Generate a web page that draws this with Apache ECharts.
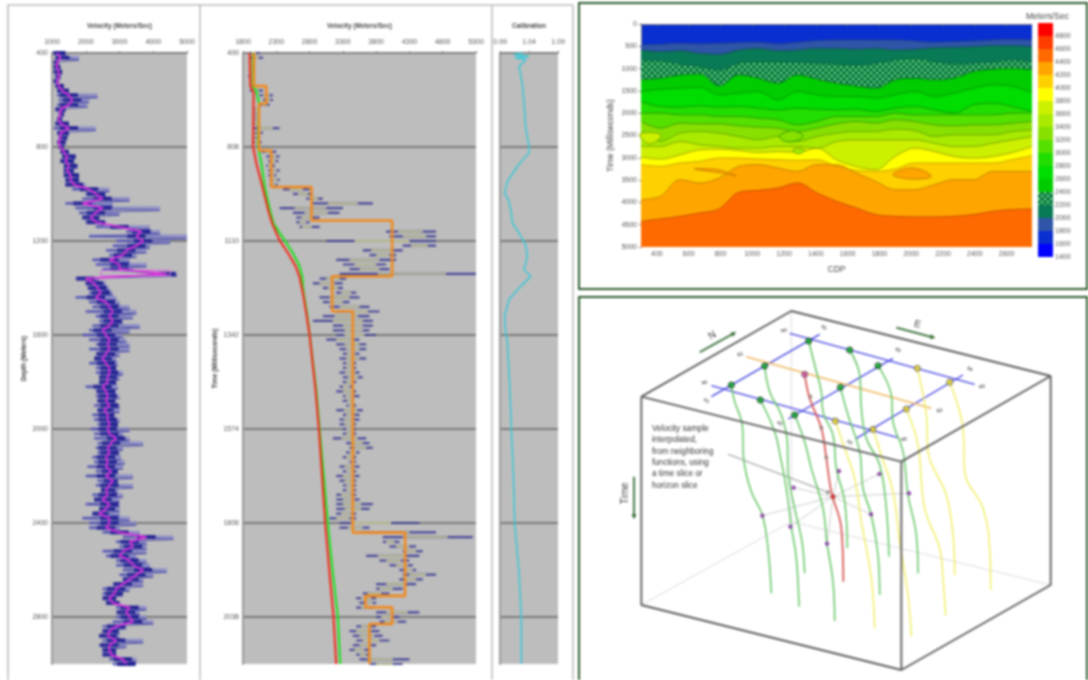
<!DOCTYPE html>
<html><head><meta charset="utf-8">
<style>html,body{margin:0;padding:0;background:#fff}#c{width:1088px;height:680px;filter:blur(0.9px)}</style>
<script src="https://cdn.jsdelivr.net/npm/echarts@6/dist/echarts.min.js"></script>
</head><body><div id="c"></div>
<script>
// ---------- Log panels: rows every 20 depth units from 400 to 3000 ----------
const rowStart = 400, rowStep = 20;
const depthTicks = [400,800,1200,1600,2000,2400,2800];
const depthLabels = ['400','800','1200','1600','2000','2400','2800'];
const timeLabels = ['400','808','1110','1342','1574','1806','2038'];
const leftVelTicks = [1000,2000,3000,4000,5000];
const midVelTicks = [1800,2300,2800,3300,3800,4300,4800,5300];
const calTicks = [0.99,1.04,1.09];

const depthLow = [
1050,1100,1050,1050,1050,1100,1050,1100,1150,1150,
1200,1150,1100,1200,1150,1100,1050,1150,1200,1150,
1200,1250,1300,1250,1350,1350,1350,1400,1400,1600,
2000,1900,1400,1700,1800,1900,2000,2300,3200,2100,
2900,2800,2600,2700,2200,2300,2500,4100,1700,2000,
2050,2100,1700,2100,2200,2000,2300,2400,2200,2100,
1900,2100,2300,2100,2300,2250,2100,2300,2300,2400,
2400,2000,2300,2300,2350,2250,2350,2200,2250,2350,
2150,2250,2250,2350,2300,2350,2200,2250,2050,2300,
2000,2350,2300,2450,2200,2250,2000,2400,2200,1900,
2100,2100,2500,3100,2900,3000,2500,2600,2900,2900,
3100,3000,3100,2800,2500,2500,2500,2600,2900,2900,
2900,2800,2500,2500,2400,2500,2400,2500,2500,2700,2800];
const depthHigh = [
1400,1800,1200,1250,1300,1250,1200,1350,1500,2350,
2100,2050,1400,1350,1300,1500,2300,1500,1450,1400,
1350,1500,1700,1650,1750,1650,1800,1800,2000,2700,
2600,3300,2800,4200,3000,2400,2600,3900,4200,5000,
4500,3900,3800,3500,3300,3800,3400,4700,2400,2600,
2700,2800,2900,3000,3300,3500,3400,3100,3600,3300,
3100,3200,3300,3300,3000,2900,2950,2900,3100,3000,
2900,2950,2900,3000,2900,3000,3000,2850,3000,2950,
3300,3100,3300,3700,3100,3000,3050,3150,3100,2950,
3400,2950,3400,2950,3100,3000,3000,3000,3000,3300,
3500,3000,3600,4600,3800,3800,3800,3500,3800,3900,
4400,4000,3700,3700,3300,3100,2900,3000,3800,3600,
3800,4000,3200,3000,3000,3700,3200,2900,2900,3500,3500];
const depthCore = [
1150,1250,1150,1150,1200,1200,1150,1200,1300,1500,
1600,1500,1250,1250,1200,1250,1500,1250,1250,1200,
1250,1350,1450,1400,1500,1450,1550,1550,1650,2100,
2300,2500,1900,2500,2300,2150,2300,3000,3650,3500,
3700,3500,3200,3100,2700,3000,3000,4400,2000,2250,
2350,2450,2300,2600,2700,2800,2700,2800,2700,2500,
2600,2700,2650,2700,2600,2500,2600,2700,2700,2650,
2650,2500,2600,2650,2600,2700,2550,2650,2650,2700,
2650,2700,2900,2750,2650,2700,2600,2650,2600,2750,
2600,2800,2700,2600,2650,2500,2700,2600,2400,2700,
2700,2600,3000,3800,3300,3400,3100,3000,3300,3400,
3700,3500,3300,3100,2900,2850,2700,2800,3300,3200,
3300,3400,2900,2700,2650,2900,2700,2700,2750,3100,3200];
const pinkLoop = [[2450,1325],[4500,1325],[4500,1347],[2450,1347]];

const timeLow = [
1900,1900,1900,1900,1900,1880,1900,1900,1900,2050,
2100,2050,1950,1950,1950,1950,1950,1980,1980,1950,
1950,2080,2150,2180,2150,2180,2180,2200,2200,2400,
2550,2750,2850,2350,2550,2600,2600,2650,3950,4000,
3050,4200,3600,3700,3200,3300,3400,3250,2950,2850,
3000,3200,2950,3000,3100,3200,3000,2850,3150,3150,
3200,3050,3200,3250,3300,3250,3300,3300,3250,3300,
3300,3250,3200,3300,3300,3350,3200,3300,3250,3250,
3300,3300,3150,3350,3400,3350,3300,3400,3250,3300,
3200,3250,3300,3300,3200,3200,3200,3200,3200,3100,
3250,3250,3550,3900,3900,4000,4200,3650,3850,4000,
4150,4200,4150,3800,3800,3600,3500,3550,3500,3800,
3800,3850,3500,3400,3450,3500,3450,3400,3500,3550,3700];
const timeHigh = [
2050,2100,1950,1950,1980,1950,1960,2000,2100,2250,
2250,2200,2050,2000,2000,2050,2350,2100,2060,2080,
2000,2300,2350,2330,2280,2350,2300,2350,2320,2800,
2850,3000,3750,3300,3250,2950,2800,2950,4700,4700,
4700,4700,4200,4100,4100,3950,4000,5300,3350,3300,
3300,3500,3550,3400,3700,3850,3700,3750,3750,3700,
3800,3550,3650,3650,3550,3650,3500,3500,3550,3600,
3500,3450,3500,3550,3450,3500,3600,3550,3550,3500,
3500,3500,3650,3700,3750,3550,3500,3500,3550,3500,
3550,3500,3500,3500,3500,3550,3750,3700,3500,3500,
4450,3700,4700,5250,4150,4400,4500,4450,4300,4350,
4400,4700,4500,4400,4200,4000,3800,3800,3750,4450,
4150,4250,3800,3850,3900,4000,3800,3700,3700,4300,4200];
const timeCore = [
1950,1980,1920,1920,1940,1920,1930,1950,1980,2150,
2170,2120,2000,1970,1970,2000,2150,2030,2020,2000,
1980,2180,2250,2250,2200,2260,2240,2280,2260,2600,
2700,2850,3300,2800,2900,2750,2700,2720,4300,4400,
3900,4450,3850,3900,3600,3650,3700,4400,3150,3050,
3150,3350,3250,3200,3400,3500,3350,3450,3450,3500,
3450,3350,3450,3450,3420,3450,3400,3400,3420,3450,
3400,3350,3400,3380,3420,3420,3430,3400,3380,3400,
3400,3400,3400,3500,3550,3450,3400,3450,3400,3400,
3400,3400,3400,3400,3350,3400,3400,3450,3350,3300,
3600,3500,3900,4500,4000,4200,4300,4000,4050,4200,
4300,4400,4300,4100,3900,3750,3650,3700,3650,4100,
3950,4000,3650,3600,3650,3700,3650,3550,3600,3800,3900];

const greenDepth = [400,541,562,612,797,868,967,1081,1126,1197,1251,1307,1353,1421,1506,1598,1834,2000,2189,2400,2614,2800,3000];
const greenVel = [1950,1950,2000,2040,2025,2075,2125,2215,2260,2425,2550,2650,2690,2710,2760,2800,2900,2950,3010,3075,3150,3225,3260];
const redDepth = [400,541,570,797,868,967,1081,1126,1197,1251,1307,1353,1421,1506,1598,1834,2000,2189,2400,2614,2800,3000];
const redVel = [1900,1910,1960,1950,2000,2090,2190,2240,2350,2475,2590,2650,2700,2750,2800,2890,2940,2985,3035,3100,3160,3200];
const stepDepth = [400,541,541,616,616,815,815,970,970,1113,1113,1350,1350,1499,1499,2441,2441,2710,2710,2759,2759,2830,2830,3000];
const stepVel = [1965,1965,2150,2150,2040,2040,2225,2225,2830,2830,4040,4040,3140,3140,3450,3450,4235,4235,3640,3640,4040,4040,3700,3700];

const calDepth = [400,407,414,421,428,457,542,599,712,797,825,882,946,996,1031,1081,1123,1166,1215,1265,1322,1350,1393,1449,1520,1598,1621,1834,2000,2189,2400,2614,2800,3000];
const calValue = [1.029,1.014,1.04,1.016,1.035,1.023,1.029,1.031,1.034,1.04,1.04,1.02,1.003,0.998,1.0055,1.0095,1.0113,1.0228,1.0343,1.0371,1.0314,1.043,1.0256,1.0055,0.998,1.0,1.0026,1.0072,1.0095,1.013,1.0153,1.0228,1.0268,1.0268];

// ---------- Velocity section ----------
const cdpSamples = [300,423,546,669,792,915,1038,1161,1284,1407,1530,1653,1776,1899,2022,2145,2268,2391,2514,2637,2760];
const cdpTicks = [400,600,800,1000,1200,1400,1600,1800,2000,2200,2400,2600];
const contour1800 = [470,455,433,448,433,418,410,448,410,373,358,358,358,358,380,410,395,380,358,343,358];
const contour2000 = [582,619,597,656,679,582,545,597,582,545,545,567,545,582,567,530,522,507,485,485,507];
const contour2200 = [821,821,895,955,1030,880,843,850,865,880,895,918,880,806,768,843,895,880,843,806,843];
const contour2400 = [1253,1216,1141,1119,1388,1141,1216,1328,1141,1238,1328,1388,1440,1253,1216,1253,1216,1067,1015,992,1030];
const contour2600 = [1514,1462,1440,1417,1589,1552,1514,1701,1514,1589,1626,1626,1664,1589,1514,1626,1552,1440,1365,1402,1537];
const contour2800 = [1738,1850,1865,1835,1865,1850,1887,1925,1887,1910,1925,1910,1962,1887,1850,1925,1999,1813,1775,1850,1962];
const contour3000 = [1999,1999,2037,2037,2074,2074,2111,2148,2260,2186,2074,2074,2074,1999,2037,2037,2037,2037,2037,1999,1999];
const contour3200 = [2186,2335,2223,2238,2238,2283,2313,2335,2410,2335,2238,2186,2223,2148,2186,2260,2283,2260,2260,2223,2186];
const contour3400 = [2410,2633,2447,2410,2447,2521,2596,2521,2633,2521,2447,2410,2410,2357,2387,2521,2484,2484,2484,2410,2372];
const contour3600 = [2745,2745,2633,2708,2745,2783,2783,2745,2745,2783,2633,2596,2596,2596,2596,2671,2745,2745,2671,2596,2521];
const contour3800 = [2984,3029,2932,2820,2805,2835,2880,2857,2880,2783,3044,3193,3267,2969,2783,2857,2969,3006,2969,2880,2745];
const contour4000 = [3156,3193,3118,3081,3006,3006,3029,3044,3059,3044,3193,3282,3305,3253,3118,3118,3118,3118,3118,3044,2954];
const contour4200 = [3939,3864,3491,3566,3454,3193,3156,3230,3305,3156,3156,3342,3529,3715,3715,3603,3491,3491,3305,3305,3305];
const contour4400 = [4424,4372,4312,4237,4148,3775,3730,3678,3566,3790,3976,4125,4275,4312,4327,4327,4312,4275,4200,4163,4148];
const lensA = [[1171,2521],[1213,2417],[1266,2395],[1318,2507],[1287,2611],[1213,2633]];
const lensB = [[1255,2835],[1287,2783],[1329,2835],[1291,2909]];
const lensC = [[1885,3379],[2011,3230],[2127,3417],[2001,3476]];
const lensD = [[636,3253],[783,3267],[898,3402],[804,3342]];
const lensE = [[300,2447],[426,2484],[363,2686],[300,2559]];
const legendLevels = [1400,1600,1800,2000,2200,2400,2600,2800,3000,3200,3400,3600,3800,4000,4200,4400,4600,4800];
const legendTicks = [1400,1600,1800,2000,2200,2400,2600,2800,3000,3200,3400,3600,3800,4000,4200,4400,4600,4800];

// ---------- Block diagram (schematic units) ----------
const boxTop = [[190,305],[640,48],[1418,243],[970,500],[190,305]];
const boxFront = [[190,305],[190,930],[970,1125],[970,500]];
const boxRight = [[970,1125],[1418,870],[1418,243]];
const boxHidden = [[190,930],[640,680],[1418,870]];
const boxHiddenUp = [[640,680],[640,48]];
const lineN1 = [[635,115],[1190,268]];
const lineN2 = [[400,272],[960,428]];
const lineE = [[505,185],[1060,340]];
const lineA1 = [[400,305],[725,118]];
const lineA2 = [[630,372],[945,190]];
const lineA3 = [[835,430],[1155,240]];
const greenFuncs = [
 [[460,270],[470,320],[492,385],[498,500],[520,590],[553,660],[570,760],[580,895]],
 [[547,315],[590,410],[608,490],[625,580],[640,695],[655,790],[663,935]],
 [[560,213],[575,290],[610,360],[628,440],[630,530],[650,640],[672,740],[680,835]],
 [[650,360],[680,440],[700,520],[735,640],[747,745],[765,860],[770,978]],
 [[692,138],[710,210],[730,290],[735,350],[765,420],[775,520],[800,620],[808,760]],
 [[787,277],[810,360],[845,470],[855,580],[880,660],[900,780],[905,900]],
 [[815,165],[845,240],[850,340],[865,430],[905,510],[925,640],[933,785]],
 [[900,212],[940,300],[945,380],[975,470],[990,600],[1015,720],[1020,835]]];
const yellowFuncs = [
 [[772,378],[800,460],[830,550],[850,680],[880,850],[890,1000]],
 [[885,403],[910,480],[945,590],[965,740],[990,900],[1000,1025]],
 [[985,342],[1020,450],[1040,640],[1085,760],[1095,850],[1103,962]],
 [[1018,220],[1045,360],[1050,470],[1105,600],[1125,720],[1130,840]],
 [[1115,262],[1155,400],[1160,530],[1215,640],[1235,760],[1238,885]]];
const redFunc = [[680,238],[695,310],[730,400],[745,490],[760,590],[790,700],[796,860]];
const greenNodes = [[692,138],[815,165],[560,213],[900,212],[787,277],[460,270],[547,315],[650,360]];
const yellowNodes = [[1018,220],[1115,262],[985,342],[772,378],[885,403]];
const magentaNodes = [[680,238]];
const brownNodes = [[697,305],[730,398],[745,487],[750,592]];
const purpleNodes = [[553,662],[637,695],[747,746],[647,578],[783,528],[904,537],[993,595],[879,658]];
const sampleNode = [[765,605]];
const leader = [[450,478],[750,592]];
const noteLines = ['Velocity sample','interpolated,','from neighboring','functions, using','a time slice or','horizon slice'];
const arrowN = [[365,172],[468,115]];
const arrowE = [[955,98],[1065,127]];
const arrowT = [[168,545],[168,665]];
const gridTags = [['N1',380,263,-15],['A1',385,317,30],['N3',618,107,-15],['S1',738,98,30],['E1',487,178,-15],['S2',960,165,30],['S3',1175,222,30],['N3',1212,275,-15],['E2',1085,347,-15],['N2',978,433,-15],['A2',815,442,30],['A2',605,385,30]];

// ---------- Styling ----------
const fontName = '"Liberation Sans", Arial, sans-serif';
const hatchCanvas = document.createElement('canvas');
hatchCanvas.width = 6; hatchCanvas.height = 6;
(function(){const g = hatchCanvas.getContext('2d');
 g.fillStyle = '#0a7f45'; g.fillRect(0,0,6,6);
 g.fillStyle = '#8ee08e'; g.fillRect(0,0,2,2); g.fillRect(3,3,2,2);})();
const hatch = {image: hatchCanvas, repeat: 'repeat'};
const legendColors = ['#0000ff','#0a2fd0','#2f55a8','#087a55',hatch,'#00cc00','#00dd00','#22dd00','#55e000','#88e000','#aaea00','#ccf000','#ffff00','#ffd000','#ffa500','#ff6a00','#ff3c00','#ff0000'];
const bands = [contour1800,contour2000,contour2200,contour2400,contour2600,contour2800,contour3000,contour3200,contour3400,contour3600,contour3800,contour4000,contour4200,contour4400];
const bandColors = legendColors.slice(2,16);
const edgeColors = ['#1d3f92','#14506a','#0a6a45','#0a7a20','#0a9a00','#0a9a00','#2a9a00','#44a000','#66a800','#78a800','#a0a800','#c8a000','#c88000','#c85000'];

function rows(a){return a.map((v,i)=>[v,rowStart+i*rowStep]);}
function pairs(xs,ys){return xs.map((x,i)=>[x,ys[i]]);}
function zig(lo,hi){const out=[];lo.forEach((v,i)=>{const d=rowStart+i*rowStep;out.push([v,d]);out.push([hi[i],d+rowStep/2]);});return out;}
// one horizontal stick per log row, from low to high, scaled by the axes
function sticks(ax,lo,hi,color,pxHeight,opacity){
  return {type:'custom',xAxisIndex:ax,yAxisIndex:ax,silent:true,animation:false,z:2,
    data:lo.map((v,i)=>[v,hi[i],rowStart+i*rowStep]),
    renderItem(p,api){const a=api.coord([api.value(0),api.value(2)]),b=api.coord([api.value(1),api.value(2)]);
      return {type:'rect',shape:{x:a[0],y:a[1]-pxHeight/2,width:Math.max(b[0]-a[0],1),height:pxHeight},style:{fill:color,opacity}};}};}

const lab = {fontFamily:fontName,fontSize:7,color:'#555'};
function topAxis(idx,min,max,ticks,name,fmt){return {gridIndex:idx,type:'value',position:'top',min,max,
  name,nameLocation:'middle',nameGap:23,nameTextStyle:{fontFamily:fontName,fontSize:6.5,fontWeight:'bold',color:'#444'},
  axisLine:{show:true,lineStyle:{color:'#8a8a8a',type:'dashed',width:1}},
  axisTick:{show:true,length:2,lineStyle:{color:'#777'},customValues:ticks},
  axisLabel:{...lab,margin:7,customValues:ticks,formatter:fmt||(v=>String(v))},splitLine:{show:false}};}
function logAxis(idx,labels,name,leftGap){return {gridIndex:idx,type:'value',inverse:true,min:400,max:3000,
  name,nameLocation:'middle',nameGap:leftGap,nameTextStyle:{fontFamily:fontName,fontSize:6.5,fontWeight:'bold',color:'#333'},
  axisLine:{show:true,lineStyle:{color:'#9a9a9a',width:2}},axisTick:{show:false,customValues:depthTicks},
  axisLabel:{...lab,show:!!labels,margin:4,customValues:depthTicks,formatter:v=>labels?labels[depthTicks.indexOf(v)]:''},
  splitLine:{show:true,lineStyle:{color:'#7b7b7b',width:2}}};}
function line(x,y,data,color,width,extra){return Object.assign({type:'line',xAxisIndex:x,yAxisIndex:y,data,showSymbol:false,silent:true,
  lineStyle:{color,width},itemStyle:{color},animation:false},extra||{});}
function dots(data,color,border,size){return {type:'scatter',xAxisIndex:5,yAxisIndex:5,data,symbolSize:size,silent:true,animation:false,z:6,
  itemStyle:{color,borderColor:border,borderWidth:1}};}
function polygonSeries(pts,color,edge){return {type:'custom',xAxisIndex:3,yAxisIndex:3,data:pts,silent:true,animation:false,z:3,
  renderItem(p,api){if(p.dataIndex!==0)return null;return {type:'polygon',shape:{points:pts.map(q=>api.coord(q)),smooth:0.4},style:{fill:color,stroke:edge,lineWidth:1}};}};}

const series = [];
// left log: pale full spread, dark band round the centre trace, magenta trace
const bandHalf = 270;
series.push(sticks(0,depthLow,depthHigh,'#8484c8',3.4,0.8));
series.push(sticks(0,depthLow.map((v,i)=>Math.max(v,depthCore[i]-bandHalf)),depthHigh.map((v,i)=>Math.min(v,depthCore[i]+bandHalf)),'#15158a',4,0.9));
series.push(line(0,0,zig(depthLow,depthHigh),'#3a3aa4',0.8,{z:3}));
series.push(line(0,0,pinkLoop.concat([pinkLoop[0]]),'#d070d8',1.2,{z:3}));
series.push(line(0,0,rows(depthCore),'#e030e0',1.8,{z:4}));
// middle log
series.push(sticks(1,timeLow,timeHigh,'#2a2a90',2.2,0.8));
series.push(sticks(1,timeLow.map((v,i)=>(v+timeCore[i])/2),timeHigh.map((v,i)=>(v+timeCore[i])/2),'#e8e88a',1.4,0.95));
series.push(line(1,1,pairs(greenVel,greenDepth),'#22e022',2.2,{z:4}));
series.push(line(1,1,pairs(redVel,redDepth),'#f03020',2.2,{z:4}));
series.push(line(1,1,pairs(stepVel,stepDepth),'#f08a20',2.6,{z:5}));
// calibration
series.push(line(2,2,pairs(calValue,calDepth),'#38c8d8',1.5));
// section
bands.forEach((b,i)=>{series.push(line(3,3,pairs(cdpSamples,b),edgeColors[i],1,{smooth:0.35,z:2,areaStyle:{origin:'end',opacity:1,color:bandColors[i]}}));});
series.push(polygonSeries(lensA,'#88e000','#2a9a00'));
series.push(polygonSeries(lensB,'#aaea00','#66a800'));
series.push(polygonSeries(lensC,'#ffa500','#c88000'));
series.push(polygonSeries(lensD,'#ffa500','#c88000'));
series.push(polygonSeries(lensE,'#ccf000','#78a800'));
// colour key
series.push({type:'custom',xAxisIndex:4,yAxisIndex:4,data:legendLevels.map(l=>[0,l]),silent:true,animation:false,
  renderItem(p,api){const l=api.value(1),a=api.coord([0,l+200]),b=api.coord([1,l]);
    return {type:'rect',shape:{x:a[0],y:a[1],width:b[0]-a[0],height:b[1]-a[1]},style:{fill:legendColors[p.dataIndex]}};}});
// block diagram
[boxHidden,boxHiddenUp].forEach(d=>series.push(line(5,5,d,'#dcdce4',1)));
[boxTop,boxFront,boxRight].forEach(d=>series.push(line(5,5,d,'#5e5e5e',1.9,{z:5})));
[lineN1,lineN2,lineA1,lineA2,lineA3].forEach(d=>series.push(line(5,5,d,'#4040e0',1.3)));
series.push(line(5,5,lineE,'#f0b860',1.6));
purpleNodes.forEach(p=>series.push(line(5,5,[p,sampleNode[0]],'#cfcfcf',1)));
series.push(line(5,5,leader,'#9a9a9a',1.1));
greenFuncs.forEach(d=>series.push(line(5,5,d,'#62c462',1.5,{smooth:0.4})));
yellowFuncs.forEach(d=>series.push(line(5,5,d,'#f2ee66',1.5,{smooth:0.4})));
series.push(line(5,5,redFunc,'#d85050',1.7,{smooth:0.4}));
series.push(dots(greenNodes,'#00b020','#222',6));
series.push(dots(yellowNodes,'#e8d820','#555',6));
series.push(dots(magentaNodes,'#d040a0','#555',6));
series.push(dots(brownNodes,'#8a7a70','#8a7a70',3));
series.push(dots(purpleNodes,'#8030a0','#8030a0',3.5));
series.push(dots(sampleNode,'#e82020','#a02020',4));
function arrow(d,rot){return line(5,5,[{value:d[0],symbol:'none'},{value:d[1],symbol:'triangle',symbolSize:5,symbolRotate:rot}],'#2f6a2f',1.8,{showSymbol:true});}
series.push(arrow(arrowN,-60),arrow(arrowE,-105),arrow(arrowT,180));

// ---------- Graphic text and frames ----------
const O5 = {x:578,y:295,k:1/3};
const graphics = [
 {type:'rect',shape:{x:579,y:3,width:508,height:286},style:{fill:'none',stroke:'#2c5a2c',lineWidth:2}},
 {type:'rect',shape:{x:579,y:297,width:508,height:390},style:{fill:'none',stroke:'#2c5a2c',lineWidth:2}},
 {type:'line',shape:{x1:8,y1:5,x2:573,y2:5},style:{stroke:'#9a9a9a',lineWidth:1.4,lineDash:[2,1]}},
 {type:'line',shape:{x1:8,y1:5,x2:8,y2:680},style:{stroke:'#b8b8b8',lineWidth:1.5}},
 {type:'line',shape:{x1:200,y1:5,x2:200,y2:680},style:{stroke:'#a8a8a8',lineWidth:1.2}},
 {type:'line',shape:{x1:492,y1:5,x2:492,y2:680},style:{stroke:'#a8a8a8',lineWidth:1.2}},
 {type:'line',shape:{x1:573,y1:5,x2:573,y2:680},style:{stroke:'#a8a8a8',lineWidth:1.2}},
 {type:'text',x:1026,y:12,style:{text:'Meters/Sec',font:'8.5px '+fontName,fill:'#444'}}
];
noteLines.forEach((t,i)=>graphics.push({type:'text',x:O5.x+222*O5.k,y:O5.y+(392+i*34)*O5.k-1,style:{text:t,font:'8.2px '+fontName,fill:'#333'}}));
gridTags.forEach(t=>graphics.push({type:'text',x:O5.x+t[1]*O5.k,y:O5.y+t[2]*O5.k,rotation:-t[3]*Math.PI/180,style:{text:t[0],font:'bold 4.5px '+fontName,fill:'#444',align:'center',verticalAlign:'middle'}}));
[['N',403,122,0.52],['E',1018,88,-0.26],['Time',142,595,Math.PI/2]].forEach(t=>graphics.push({type:'text',x:O5.x+t[1]*O5.k,y:O5.y+t[2]*O5.k,rotation:t[3],style:{text:t[0],font:'10px '+fontName,fill:'#444',align:'center',verticalAlign:'middle'}}));

const option = {
 animation:false,backgroundColor:'#fff',
 grid:[
  {left:52,top:53,width:135,height:611,show:true,backgroundColor:'#bdbdbd',borderWidth:0},
  {left:243,top:53,width:233,height:611,show:true,backgroundColor:'#bdbdbd',borderWidth:0},
  {left:500,top:53,width:58,height:611,show:true,backgroundColor:'#bdbdbd',borderWidth:0},
  {left:641,top:24,width:391,height:223,show:true,backgroundColor:'#0a2fd0',borderWidth:0},
  {left:1038,top:23,width:15,height:234},
  {left:578,top:295,width:510,height:385}
 ],
 xAxis:[
  topAxis(0,1000,5000,leftVelTicks,'Velocity (Meters/Sec)'),
  topAxis(1,1800,5300,midVelTicks,'Velocity (Meters/Sec)'),
  topAxis(2,0.99,1.09,calTicks,'Calibration',v=>v.toFixed(2)),
  {gridIndex:3,type:'value',min:300,max:2760,name:'CDP',nameLocation:'middle',nameGap:18,nameTextStyle:{fontFamily:fontName,fontSize:8.5,color:'#444'},
   axisLine:{show:true,lineStyle:{color:'#777'}},axisTick:{show:true,length:2,lineStyle:{color:'#777'},customValues:cdpTicks},
   axisLabel:{...lab,margin:4,customValues:cdpTicks,formatter:v=>String(v)},splitLine:{show:false}},
  {gridIndex:4,type:'value',min:0,max:1,show:false},
  {gridIndex:5,type:'value',min:0,max:1530,show:false}
 ],
 yAxis:[
  logAxis(0,depthLabels,'Depth (Meters)',24),
  logAxis(1,timeLabels,'Time (Milliseconds)',24),
  logAxis(2,null,'',0),
  {gridIndex:3,type:'value',inverse:true,min:0,max:5000,interval:500,name:'Time (Milliseconds)',nameLocation:'middle',nameGap:26,nameTextStyle:{fontFamily:fontName,fontSize:8.5,color:'#444'},
   axisLine:{show:true,lineStyle:{color:'#777'}},axisTick:{show:true,length:2,lineStyle:{color:'#777'}},
   axisLabel:{...lab,margin:4,formatter:v=>String(v)},splitLine:{show:false}},
  {gridIndex:4,type:'value',position:'right',min:1400,max:5000,interval:200,
   axisLine:{show:false},axisTick:{show:false,customValues:legendTicks},
   axisLabel:{...lab,margin:2,customValues:legendTicks,formatter:v=>String(v)},splitLine:{show:false}},
  {gridIndex:5,type:'value',inverse:true,min:0,max:1155,show:false}
 ],
 series,graphic:{elements:graphics}
};
echarts.init(document.getElementById('c'),null,{renderer:'canvas'}).setOption(option);
</script></body></html>
